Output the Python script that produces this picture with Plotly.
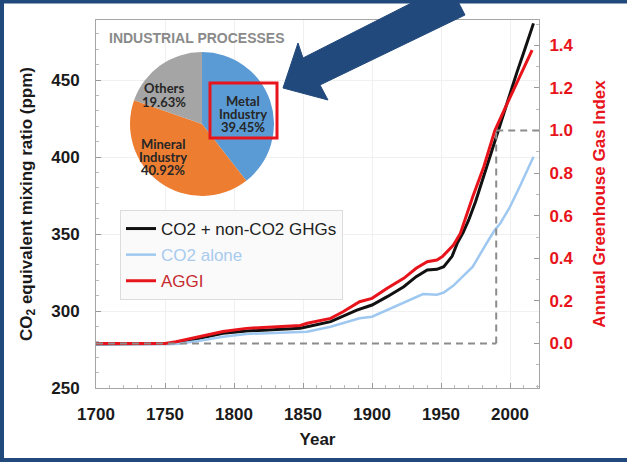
import plotly.graph_objects as go

# ---------------- data ----------------
years_total = [1700, 1750, 1758, 1775, 1792, 1809, 1841, 1848, 1853, 1870, 1889, 1900,
               1911, 1923, 1932, 1940, 1947, 1952, 1958, 1962, 1966, 1970, 1975, 1980,
               1985, 1990, 1995, 2000, 2005, 2010, 2017]
ppm_total = [278.6, 278.7, 278.9, 282.3, 285.5, 287.0, 288.5, 288.8, 289.8, 293.1, 300.6, 303.9,
             309.3, 315.8, 322.3, 326.6, 327.1, 328.8, 335.5, 344.5, 351.0, 359.0, 371.0, 385.0,
             400.0, 414.5, 428.0, 441.4, 455.0, 468.0, 486.8]

years_co2 = [1700, 1758, 1775, 1792, 1809, 1841, 1853, 1870, 1891, 1900, 1911, 1925,
             1937, 1947, 1952, 1959, 1964, 1973, 1983, 1989, 1993, 2000, 2007, 2017]
ppm_co2 = [278.6, 278.6, 280.7, 283.3, 285.1, 285.9, 286.6, 289.8, 295.3, 296.3, 300.6, 306.0,
           311.0, 310.6, 312.0, 316.5, 320.8, 328.8, 344.0, 352.6, 357.0, 367.7, 380.7, 400.2]

years_aggi = [1700, 1750, 1758, 1775, 1792, 1809, 1841, 1848, 1853, 1870, 1879, 1891, 1900,
              1911, 1923, 1932, 1940, 1947, 1951, 1959, 1964, 1973, 1981, 1989, 1998, 2007, 2016]
aggi = [0.0, 0.0, 0.008, 0.032, 0.056, 0.071, 0.082, 0.085, 0.095, 0.118, 0.149, 0.196, 0.212,
        0.259, 0.306, 0.353, 0.384, 0.392, 0.408, 0.462, 0.517, 0.689, 0.830, 1.0, 1.128, 1.253, 1.378]

ref_year = 1990
ref_aggi = 1.0

pie_labels = ["Metal Industry", "Mineral Industry", "Others"]
pie_values = [39.45, 40.92, 19.63]
pie_colors = ["#5b9bd5", "#ed7d31", "#a5a5a5"]

x_ticks = [1700, 1750, 1800, 1850, 1900, 1950, 2000]
y_ticks = [250, 300, 350, 400, 450]
y2_ticks = [0.0, 0.2, 0.4, 0.6, 0.8, 1.0, 1.2, 1.4]

# ---------------- layout geometry (pixels) ----------------
W, H = 627, 462
L, R, T, B = 96, 539, 20, 388


def px_x(p):
    return (p - L) / (R - L)


def px_y(p):
    return (B - p) / (B - T)


FONT = "Liberation Sans, Arial, sans-serif"
RED = "#e8141b"
NAVY = "#22497c"

fig = go.Figure()

fig.add_trace(go.Scatter(x=years_total, y=ppm_total, mode="lines", name="CO2 + non-CO2 GHGs",
                         line=dict(color="#111111", width=3), legendgroup="a"))
fig.add_trace(go.Scatter(x=years_co2, y=ppm_co2, mode="lines",
                         name="<span style='color:#a9cbee'>CO2 alone</span>",
                         line=dict(color="#9ec8f0", width=2.5), legendgroup="b"))
fig.add_trace(go.Scatter(x=years_aggi, y=aggi, mode="lines", yaxis="y2",
                         name="<span style='color:#c62a30'>AGGI</span>",
                         line=dict(color=RED, width=3), legendgroup="c"))

# inset pie
cx, cy, rad = 202, 124, 72
fig.add_trace(go.Pie(labels=pie_labels, values=pie_values, sort=False, direction="clockwise",
                     rotation=0, marker=dict(colors=pie_colors, line=dict(width=0)),
                     textinfo="none", hoverinfo="label+percent", showlegend=False,
                     domain=dict(x=[px_x(cx - rad), px_x(cx + rad)], y=[px_y(cy + rad), px_y(cy - rad)])))

shapes = []
annotations = []

# white inset background
shapes.append(dict(type="rect", xref="paper", yref="paper", layer="between",
                   x0=px_x(97), x1=px_x(328), y0=px_y(200), y1=px_y(21),
                   fillcolor="white", line=dict(width=0)))

# dashed reference lines
dash_style = dict(color="#8c8c8c", width=2, dash="7px,5px")
shapes.append(dict(type="line", xref="x", yref="y2", x0=1700, x1=ref_year, y0=0, y1=0, line=dash_style))
shapes.append(dict(type="line", xref="x", yref="y2", x0=ref_year, x1=ref_year, y0=0, y1=ref_aggi, line=dash_style))
shapes.append(dict(type="line", xref="x", yref="y2", x0=ref_year, x1=2021, y0=ref_aggi, y1=ref_aggi, line=dash_style))

# red highlight box around Metal Industry label
shapes.append(dict(type="rect", xref="paper", yref="paper", layer="above",
                   x0=px_x(210), x1=px_x(277), y0=px_y(138), y1=px_y(83),
                   line=dict(color=RED, width=3), fillcolor="rgba(0,0,0,0)"))

# big arrow
arrow_pts = [(283, 88), (328, 100), (320, 85), (465, 15), (449, -16), (303, 58), (298, 43)]
path = "M " + " L ".join(f"{px_x(a):.5f},{px_y(b):.5f}" for a, b in arrow_pts) + " Z"
shapes.append(dict(type="path", xref="paper", yref="paper", layer="above", path=path,
                   fillcolor=NAVY, line=dict(color=NAVY, width=1)))

# outer border (left, top, bottom; right is cut off)
shapes.append(dict(type="rect", xref="paper", yref="paper", layer="above",
                   x0=px_x(2), x1=px_x(700), y0=px_y(460), y1=px_y(1.5),
                   line=dict(color=NAVY, width=4), fillcolor="rgba(0,0,0,0)"))

# inset title
annotations.append(dict(text="INDUSTRIAL PROCESSES", xref="paper", yref="paper",
                        x=px_x(107), y=px_y(38), xanchor="left", yanchor="middle", showarrow=False,
                        font=dict(family=FONT, size=14, color="#8a8a8a", weight="bold")))

# pie labels (one annotation per line)
label_centers = [(243, 114), (163, 157), (164, 95)]
for lab, val, (lx, ly) in zip(pie_labels, pie_values, label_centers):
    lines = lab.split(" ") + [f"{val:.2f}%"]
    n = len(lines)
    for i, line in enumerate(lines):
        yy = ly + (i - (n - 1) / 2) * 13.3
        annotations.append(dict(text=f"<b>{line}</b>", xref="paper", yref="paper",
                                x=px_x(lx), y=px_y(yy), xanchor="center", yanchor="middle",
                                showarrow=False,
                                font=dict(family="Lato, Carlito, sans-serif", size=13, color="#262626")))

fig.update_layout(
    width=W, height=H,
    margin=dict(l=L, r=W - R, t=T, b=H - B, pad=0, autoexpand=False),
    paper_bgcolor="white", plot_bgcolor="white",
    font=dict(family=FONT, color="#111111"),
    showlegend=True,
    legend=dict(x=px_x(120), y=px_y(210), xanchor="left", yanchor="top",
                bgcolor="rgba(250,250,250,0.95)", bordercolor="#dcdcdc", borderwidth=1,
                font=dict(family=FONT, size=17, color="#222222"), tracegroupgap=1,
                itemwidth=30),
    xaxis=dict(range=[1700, 2021], tickvals=x_ticks, ticks="inside", ticklen=5, tickcolor="#999999",
               showline=True, linecolor="#a6a6a6", linewidth=1, mirror=True, automargin=False,
               showgrid=True, gridcolor="#f0f0f0", zeroline=False,
               minor=dict(dtick=10, ticks="inside", ticklen=3, tickcolor="#bbbbbb", showgrid=False),
               tickfont=dict(family=FONT, size=17, color="#1a1a1a", weight="bold"),
               ticklabelstandoff=11,
               title=dict(text="Year", standoff=9,
                          font=dict(family=FONT, size=17, color="#1a1a1a", weight="bold"))),
    yaxis=dict(range=[250, 489], tickvals=y_ticks, ticks="inside", ticklen=5, tickcolor="#999999",
               showline=True, linecolor="#a6a6a6", linewidth=1, automargin=False,
               showgrid=True, gridcolor="#f0f0f0", zeroline=False,
               minor=dict(dtick=10, ticks="inside", ticklen=3, tickcolor="#bbbbbb", showgrid=False),
               tickfont=dict(family=FONT, size=17, color="#1a1a1a", weight="bold"),
               ticklabelstandoff=12,
               title=dict(text="CO<sub>2</sub> equivalent mixing ratio (ppm)", standoff=14,
                          font=dict(family=FONT, size=17, color="#1a1a1a", weight="bold"))),
    yaxis2=dict(range=[-0.209, 1.519], overlaying="y", side="right", tickvals=y2_ticks,
                tickformat=".1f", ticks="inside", ticklen=5, tickcolor="#999999", automargin=False,
                showline=True, linecolor="#a6a6a6", linewidth=1, showgrid=False, zeroline=False,
                minor=dict(dtick=0.1, ticks="inside", ticklen=3, tickcolor="#bbbbbb"),
                tickfont=dict(family=FONT, size=17, color=RED, weight="bold"),
                ticklabelstandoff=6,
                title=dict(text="Annual Greenhouse Gas Index", standoff=20,
                           font=dict(family=FONT, size=17, color=RED, weight="bold"))),
    shapes=shapes,
    annotations=annotations,
)

fig.write_html("out.html", config={"displayModeBar": False},
               post_script="document.body.style.margin='0';")
